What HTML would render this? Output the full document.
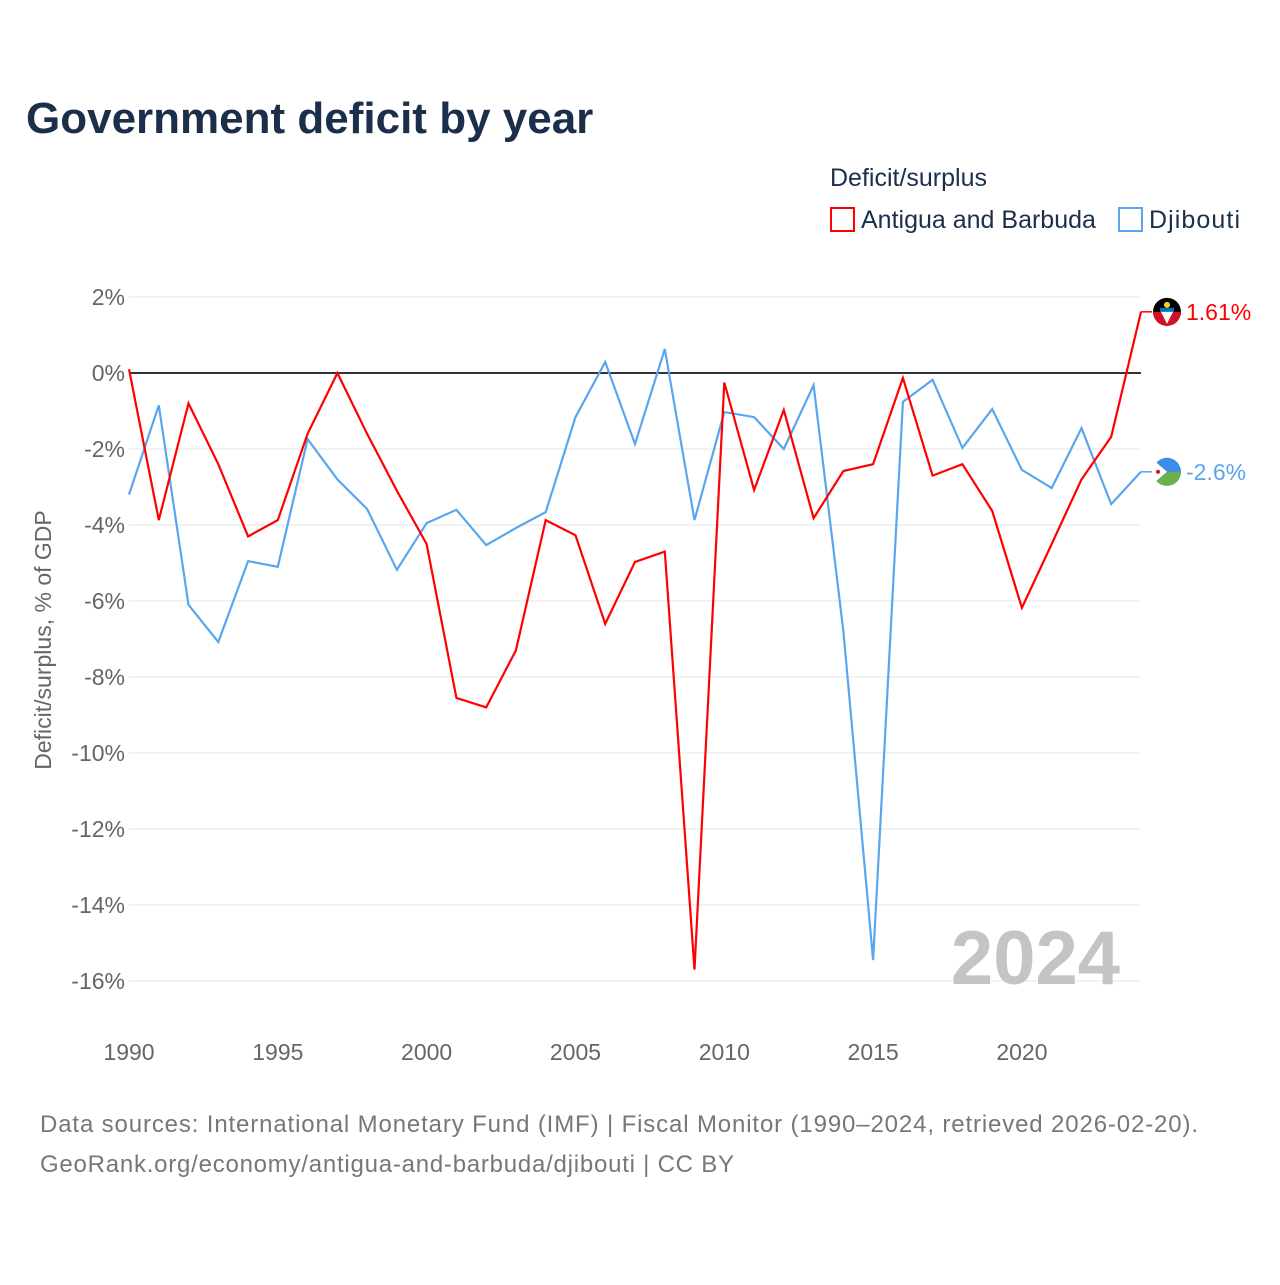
<!DOCTYPE html>
<html><head><meta charset="utf-8">
<style>
html,body{margin:0;padding:0;background:#fff;}
body{width:1280px;height:1280px;overflow:hidden;font-family:"Liberation Sans",sans-serif;}
</style></head>
<body>
<svg id="chart" width="1280" height="1280" xmlns="http://www.w3.org/2000/svg">
<text x="26" y="133" font-size="44" font-weight="bold" fill="#1b2f4b">Government deficit by year</text>
<text x="830" y="186" font-size="25" fill="#1b2f4b">Deficit/surplus</text>
<g>
<rect x="831" y="208" width="23" height="23" fill="#fff" stroke="#ff0000" stroke-width="2"/>
<text x="861" y="228" font-size="25" fill="#1b2f4b">Antigua and Barbuda</text></g>
<g>
<rect x="1119" y="208" width="23" height="23" fill="#fff" stroke="#5aa6ee" stroke-width="2"/>
<text x="1149" y="228" font-size="25" fill="#1b2f4b" textLength="91">Djibouti</text></g>
<g id="grid"></g><g id="yticks"></g><g id="xticks"></g>
<text transform="translate(51,640) rotate(-90)" text-anchor="middle" font-size="23" fill="#666">Deficit/surplus, % of GDP</text>
<text x="1120" y="984" text-anchor="end" font-size="76" font-weight="bold" fill="#c4c4c4">2024</text>
<g id="series"></g>
<text x="40" y="1132" font-size="24" fill="#777" textLength="1158">Data sources: International Monetary Fund (IMF) | Fiscal Monitor (1990–2024, retrieved 2026-02-20).</text>
<text x="40" y="1172" font-size="24" fill="#777" textLength="694">GeoRank.org/economy/antigua-and-barbuda/djibouti | CC BY</text>
</svg>
<script>
const years=[];for(let y=1990;y<=2024;y++)years.push(y);
const antigua=[0.1,-3.87,-0.8,-2.4,-4.3,-3.87,-1.6,0,-1.6,-3.1,-4.5,-8.55,-8.8,-7.3,-3.87,-4.27,-6.6,-4.97,-4.7,-15.7,-0.25,-3.08,-0.97,-3.82,-2.58,-2.4,-0.13,-2.7,-2.4,-3.63,-6.18,-4.5,-2.8,-1.68,1.61];
const djibouti=[-3.2,-0.85,-6.1,-7.08,-4.95,-5.1,-1.74,-2.8,-3.58,-5.18,-3.95,-3.6,-4.53,-4.08,-3.66,-1.16,0.29,-1.87,0.63,-3.87,-1.03,-1.16,-2.0,-0.32,-6.8,-15.45,-0.76,-0.18,-1.97,-0.95,-2.55,-3.03,-1.45,-3.45,-2.6];
const yTicks=[2,0,-2,-4,-6,-8,-10,-12,-14,-16];
const xTicks=[1990,1995,2000,2005,2010,2015,2020];
const NS='http://www.w3.org/2000/svg';
const X=y=>129+(y-1990)*(1141-129)/34;
const Y=v=>373-v*38;
function mk(tag,attrs,parent){const e=document.createElementNS(NS,tag);for(const k in attrs)e.setAttribute(k,attrs[k]);document.getElementById(parent).appendChild(e);return e;}
yTicks.forEach(v=>{
 const l=mk('line',{x1:129,x2:1141,y1:Y(v),y2:Y(v),stroke:v===0?'#333':'#e6e6e6','stroke-width':v===0?2:1},'grid');
 
 
 const t=mk('text',{x:125,y:Y(v)+8,'text-anchor':'end','font-size':23,fill:'#666'},'yticks');
 t.textContent=v+'%';
 
 
});
xTicks.forEach(v=>{
 const t=mk('text',{x:X(v),y:1060,'text-anchor':'middle','font-size':23,fill:'#666'},'xticks');
 t.textContent=v;
 
 
});
function series(data,color,name,label){
 const d=data.map((v,i)=>(i?'L':'M')+X(years[i]).toFixed(1)+','+Y(v).toFixed(1)).join('');
 const p=mk('path',{d:d,fill:'none',stroke:color,'stroke-width':2.2,'stroke-linejoin':'miter'},'series');
 
 
 const last=data[data.length-1],ly=Y(last);
 mk('line',{x1:X(2024),x2:1152,y1:ly,y2:ly,stroke:color,'stroke-width':1.5},'series');
 const c=mk('circle',{cx:1167,cy:ly,r:14,fill:name==='antigua'?'#000':'#3d8de8'},'series');
 
 
 if(name==='antigua'){mk('path',{d:`M1153,${ly}L1181,${ly}A14,14 0 0 1 1153,${ly}Z`,fill:'#ce1126'},'series');mk('path',{d:`M1160,${ly-2}L1174,${ly-2}L1167,${ly+12}Z`,fill:'#fff'},'series');mk('rect',{x:1160,y:ly-4,width:14,height:4,fill:'#0072c6'},'series');mk('circle',{cx:1167,cy:ly-7,r:3,fill:'#fcd116'},'series');}
 else{mk('path',{d:`M1153,${ly}L1181,${ly}A14,14 0 0 1 1153,${ly}Z`,fill:'#6ab04c'},'series');mk('path',{d:`M1153,${ly-12}L1167,${ly}L1153,${ly+12}Z`,fill:'#fff'},'series');mk('circle',{cx:1158,cy:ly,r:2,fill:'#d7141a'},'series');}
 const t=mk('text',{x:1186,y:ly+8,'font-size':23,fill:color},'series');
 t.textContent=label;
 
 
}
series(djibouti,'#5aa6ee','djibouti',djibouti[djibouti.length-1]+'%');
series(antigua,'#ff0000','antigua',antigua[antigua.length-1]+'%');
</script>
</body></html>
